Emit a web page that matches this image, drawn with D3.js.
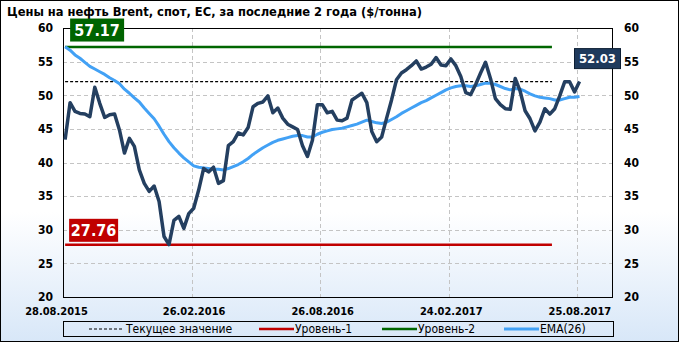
<!DOCTYPE html>
<html>
<head>
<meta charset="utf-8">
<script src="https://cdn.jsdelivr.net/npm/d3@7"></script>
<style>
  body { margin: 0; background: #fff; }
  svg text { font-family: "DejaVu Sans Condensed", "DejaVu Sans", sans-serif; font-stretch: condensed; }
</style>
</head>
<body>
<div id="chart"></div>
<script>
// ---------------- data ----------------
const titleText = "Цены на нефть Brent, спот, EC, за последние 2 года ($/тонна)";
const firstDate = "31.08.2015";   // weekly quotes from this date
const price = [
  43.4, 48.9, 47.6, 47.3, 47.2, 46.8, 51.2, 48.8, 46.7, 47.1,
  47.2, 44.8, 41.4, 43.6, 42.4, 38.9, 36.9, 35.7, 36.5, 34.2,
  29.0, 27.8, 31.4, 32.0, 30.2, 32.4, 33.2, 35.9, 39.1, 38.6,
  39.3, 36.9, 37.3, 42.5, 43.1, 44.4, 44.1, 45.2, 48.3, 48.8,
  49.0, 49.9, 47.4, 48.1, 46.6, 45.7, 45.3, 44.9, 42.5, 40.9,
  43.3, 48.6, 48.6, 47.4, 47.6, 46.3, 46.2, 46.6, 49.3, 49.8,
  50.3, 48.9, 44.6, 43.1, 43.8, 46.6, 49.3, 52.3, 53.3, 53.8,
  54.4, 55.1, 53.9, 54.2, 54.6, 55.6, 54.5, 54.4, 55.4, 54.4,
  52.8, 50.4, 50.1, 51.6, 53.3, 54.9, 52.5, 49.5, 48.6, 48.0,
  47.9, 52.5, 50.6, 47.7, 46.5, 44.7, 46.0, 48.0, 47.2, 48.0,
  49.9, 52.0, 52.0, 50.5, 52.03
];
const ema26 = [
  57.2, 56.7, 56.0, 55.5, 54.9, 54.3, 53.9, 53.5, 53.1, 52.6,
  52.2, 51.7, 50.9, 50.3, 49.6, 49.0, 48.1, 47.3, 46.5, 45.4,
  44.2, 43.1, 42.2, 41.4, 40.7, 40.1, 39.5, 39.3, 39.2, 39.1,
  39.0, 39.0, 38.9, 39.1, 39.4, 39.7, 40.1, 40.6, 41.2, 41.7,
  42.2, 42.6, 43.0, 43.3, 43.5, 43.7, 43.9, 44.0, 44.0, 43.8,
  43.8, 44.2, 44.5, 44.7, 44.9, 45.0, 45.1, 45.3, 45.5, 45.7,
  46.0, 46.3, 46.1, 45.9, 45.8, 46.0, 46.4, 46.8, 47.3, 47.7,
  48.1, 48.5, 48.9, 49.2, 49.6, 50.0, 50.4, 50.8, 51.1, 51.3,
  51.4, 51.4, 51.3, 51.4, 51.6, 51.8, 51.8, 51.6, 51.3, 51.0,
  50.8, 51.0, 50.9, 50.6, 50.2, 49.9, 49.7, 49.6, 49.5, 49.3,
  49.3, 49.5, 49.7, 49.7, 49.8
];
const currentValue = 52.03;
const level1 = 27.76;
const level2 = 57.17;
const yTicks = [20, 25, 30, 35, 40, 45, 50, 55, 60];
const xTicks = ["28.08.2015", "26.02.2016", "26.08.2016", "24.02.2017", "25.08.2017"];
const xDomain = ["28.08.2015", "13.10.2017"];
const levelEnd = "20.07.2017";
const legendNames = ["Текущее значение", "Уровень-1", "Уровень-2", "EMA(26)"];

// ---------------- layout ----------------
const svgWidth = 679;
const svgHeight = 342;
const margin = { top: 28, right: 67, bottom: 45, left: 63 };
const width = svgWidth - margin.left - margin.right;
const height = svgHeight - margin.top - margin.bottom;

const priceColor = "#243f60";
const emaColor = "#42a1f5";
const redColor = "#c00000";
const greenColor = "#006600";

const parseDate = d3.timeParse("%d.%m.%Y");
const start = parseDate(firstDate);
const dates = price.map((d, i) => d3.timeDay.offset(start, 7 * i));

const root = d3.select("#chart")
  .append("svg")
  .attr("width", svgWidth)
  .attr("height", svgHeight);

// background gradient
const grad = root.append("defs").append("linearGradient")
  .attr("id", "bg").attr("x1", 0).attr("y1", 0).attr("x2", 0).attr("y2", 1);
grad.append("stop").attr("offset", "0%").attr("stop-color", "#ffffff");
grad.append("stop").attr("offset", "62%").attr("stop-color", "#ffffff");
grad.append("stop").attr("offset", "100%").attr("stop-color", "#d8e7f8");

root.append("rect")
  .attr("x", 0.5).attr("y", 0.5)
  .attr("width", svgWidth - 1).attr("height", svgHeight - 1)
  .attr("fill", "url(#bg)")
  .attr("stroke", "#000");

root.append("text")
  .attr("x", 7)
  .attr("y", 16)
  .attr("font-size", 12.8)
  .attr("font-weight", "bold")
  .text(titleText);

const svg = root.append("g")
  .attr("transform", `translate(${margin.left},${margin.top})`);

const xScale = d3.scaleTime()
  .domain(xDomain.map(parseDate))
  .range([0, width]);

const yScale = d3.scaleLinear()
  .domain([20, 60])
  .range([height, 0]);

// grid
svg.selectAll(".hgrid")
  .data(yTicks.filter(d => d > 20 && d < 60))
  .enter()
  .append("line")
  .attr("x1", 0).attr("x2", width)
  .attr("y1", d => Math.round(yScale(d)) + 0.5)
  .attr("y2", d => Math.round(yScale(d)) + 0.5)
  .attr("stroke", "#c4c4c4")
  .attr("stroke-dasharray", "4,3");

svg.selectAll(".vgrid")
  .data(xTicks.slice(1).map(parseDate))
  .enter()
  .append("line")
  .attr("x1", d => Math.round(xScale(d)) + 0.5)
  .attr("x2", d => Math.round(xScale(d)) + 0.5)
  .attr("y1", 0).attr("y2", height)
  .attr("stroke", "#c4c4c4")
  .attr("stroke-dasharray", "4,3");

// plot frame
svg.append("rect")
  .attr("x", 0.5).attr("y", 0.5)
  .attr("width", width).attr("height", height)
  .attr("fill", "none")
  .attr("stroke", "#000");

// axes
const yAxisL = d3.axisLeft(yScale).tickValues(yTicks).tickSize(0).tickPadding(10);
const yAxisR = d3.axisRight(yScale).tickValues(yTicks).tickSize(0).tickPadding(12);
const xAxis = d3.axisBottom(xScale)
  .tickValues(xTicks.map(parseDate))
  .tickFormat(d3.timeFormat("%d.%m.%Y"))
  .tickSize(0).tickPadding(10);

svg.append("g").attr("class", "y-axis").call(yAxisL);
svg.append("g").attr("class", "y-axis").attr("transform", `translate(${width},0)`).call(yAxisR);
svg.append("g").attr("class", "x-axis").attr("transform", `translate(0,${height})`).call(xAxis);

svg.selectAll(".domain").remove();
svg.selectAll(".y-axis text")
  .attr("font-size", 12).attr("font-weight", "bold").attr("fill", "#000")
  .attr("font-family", null);
svg.selectAll(".x-axis text")
  .attr("font-size", 11).attr("font-weight", "bold").attr("fill", "#000")
  .attr("font-family", null)
  .attr("dx", (d, i) => i === 0 ? -7 : 2);

// level lines
const lineX0 = xScale(dates[0]);
const lineX1 = xScale(parseDate(levelEnd));

svg.append("line")
  .attr("x1", lineX0).attr("x2", lineX1)
  .attr("y1", yScale(currentValue)).attr("y2", yScale(currentValue))
  .attr("stroke", "#000").attr("stroke-width", 1.2)
  .attr("stroke-dasharray", "3,2");

svg.append("line")
  .attr("x1", lineX0).attr("x2", lineX1)
  .attr("y1", yScale(level1)).attr("y2", yScale(level1))
  .attr("stroke", redColor).attr("stroke-width", 2.5);

svg.append("line")
  .attr("x1", lineX0).attr("x2", lineX1)
  .attr("y1", yScale(level2)).attr("y2", yScale(level2))
  .attr("stroke", greenColor).attr("stroke-width", 2.5);

// series
const line = d3.line()
  .x((d, i) => xScale(dates[i]))
  .y(d => yScale(d));

svg.append("path")
  .datum(ema26)
  .attr("d", line)
  .attr("fill", "none")
  .attr("stroke", emaColor)
  .attr("stroke-width", 3)
  .attr("stroke-linejoin", "round");

svg.append("path")
  .datum(price)
  .attr("d", line)
  .attr("fill", "none")
  .attr("stroke", priceColor)
  .attr("stroke-width", 3.5)
  .attr("stroke-linejoin", "round");

// value labels
function valueLabel(x, yBottom, w, h, fill, txt, size, stroke) {
  const g = svg.append("g");
  g.append("rect")
    .attr("x", x).attr("y", yBottom - h)
    .attr("width", w).attr("height", h)
    .attr("fill", fill)
    .attr("stroke", stroke || "none");
  g.append("text")
    .attr("x", x + w / 2).attr("y", yBottom - h / 2)
    .attr("dy", "0.36em")
    .attr("text-anchor", "middle")
    .attr("fill", "#fff")
    .attr("font-size", size)
    .attr("font-weight", "bold")
    .text(txt);
}

valueLabel(lineX0 + 5, yScale(level2) - 5.5, 54, 23, "#006400", level2.toFixed(2), 16);
valueLabel(lineX0 + 4, yScale(level1) - 3, 49, 23, redColor, level1.toFixed(2), 16);
const lastX = xScale(dates[dates.length - 1]);
valueLabel(lastX - 5, yScale(currentValue) - 13, 46, 20, "#1f3a5c", currentValue.toFixed(2), 13, "#0d1e33");

// legend
const legend = root.append("g");
legend.append("rect")
  .attr("x", 63.5).attr("y", 321.5)
  .attr("width", 550).attr("height", 15)
  .attr("fill", "none")
  .attr("stroke", "#000");

const legendItems = [
  { x: 89, color: "#000", width: 1.2, dash: "3,2" },
  { x: 259, color: redColor, width: 2.5, dash: null },
  { x: 382, color: greenColor, width: 2.5, dash: null },
  { x: 504, color: emaColor, width: 3, dash: null }
];
legendItems.forEach((it, i) => {
  legend.append("line")
    .attr("x1", it.x).attr("x2", it.x + 35)
    .attr("y1", 329).attr("y2", 329)
    .attr("stroke", it.color)
    .attr("stroke-width", it.width)
    .attr("stroke-dasharray", it.dash);
  legend.append("text")
    .attr("x", it.x + (i === 0 ? 37 : 36))
    .attr("y", 329)
    .attr("dy", "0.35em")
    .attr("font-size", 12)
    .text(legendNames[i]);
});
</script>
</body>
</html>
